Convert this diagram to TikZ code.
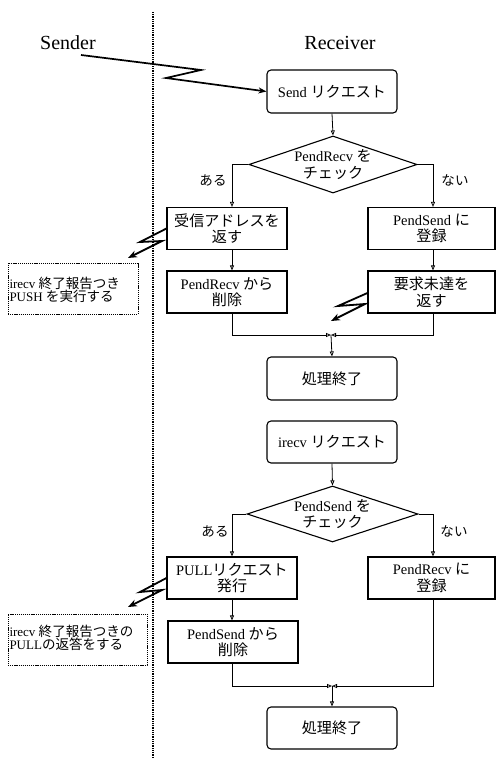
\documentclass[tikz,border=0pt]{standalone}
\usepackage{fontspec}
\setmainfont{Liberation Serif}
\newfontfamily\jp[Scale=1.04]{Noto Sans CJK JP}
\newcommand\J[1]{{\jp #1}}
\usetikzlibrary{shapes.geometric,arrows.meta,calc}
\tikzset{
  base/.style={draw, line width=1.1pt, align=center, inner sep=0pt, font=\fontsize{14.5}{16.5}\selectfont},
  procbox/.style={base, rectangle, minimum width=#1, minimum height=42pt},
  roundbox/.style={base, rectangle, rounded corners=4pt, minimum width=130pt, minimum height=43pt},
  decide/.style={base, diamond, shape aspect=3},
  notebox/.style={draw, line width=1pt, dash pattern=on 1.2pt off 0.9pt, rectangle, align=left, inner sep=0pt, font=\fontsize{13}{13.5}\selectfont},
  arr/.style={line width=0.8pt, -{Triangle[open, length=5pt, width=4pt]}},
  bolt/.style={line width=1.8pt, -{Stealth[length=9pt, width=7pt, open]}},
  lbl/.style={font=\fontsize{13}{14}\selectfont},
  head/.style={font=\fontsize{20}{24}\selectfont},
}
\begin{document}
\begin{tikzpicture}[x=1pt, y=-1pt]
\useasboundingbox (0,0) rectangle (496,759);
% headings and divider
\node[head] (sender) at (68,43) {Sender};
\node[head] (receiver) at (340,43) {Receiver};
\coordinate (ltop) at (153,12);
\coordinate (lbot) at (153,759);
\draw[line width=1.7pt, dash pattern=on 1pt off 0.8pt] (ltop) -- (lbot);
% guide coordinates
\coordinate (lx) at (232,0);
\coordinate (rx) at (433,0);
% ---- first part
\node[roundbox] (sendreq) at (332,91.5) {Send \J{リクエスト}};
\node[decide, minimum width=168pt, minimum height=57pt] (d1) at (333,164.5) {PendRecv \J{を}\\\J{チェック}};
\node[procbox=120pt] (b1) at (227,228.5) {\J{受信アドレスを}\\\J{返す}};
\node[procbox=127pt] (b2) at (431.5,228.5) {PendSend \J{に}\\\J{登録}};
\node[procbox=120pt] (b3) at (227,292) {PendRecv \J{から}\\\J{削除}};
\node[procbox=127pt] (b4) at (431.5,292) {\J{要求未達を}\\\J{返す}};
\coordinate (j1) at (331,335);
\node[roundbox] (end1) at (332,378.5) {\J{処理終了}};
\node[lbl] (yes1) at (213,180) {\J{ある}};
\node[lbl] (no1) at (455,180) {\J{ない}};

\draw[arr] (sendreq.south) -- (d1.north);
\draw[arr] (d1.west) -| (lx |- b1.north);
\draw[arr] (d1.east) -| (rx |- b2.north);
\draw[arr] (lx |- b1.south) -- (lx |- b3.north);
\draw[arr] (rx |- b2.south) -- (rx |- b4.north);
\draw[arr] (lx |- b3.south) |- (j1);
\draw[arr] (rx |- b4.south) |- (j1);
\draw[arr] (j1) -- (end1.north);

\node[notebox, minimum width=130pt, minimum height=51pt] (n1) at (73,288.5) {};
\node[notebox, anchor=west, draw=none] (n1t) at (9,290) {irecv \J{終了報告つき}\\PUSH \J{を実行する}};

% bolts
\coordinate (s0) at (81,55);
\coordinate (s1) at (201,70);
\coordinate (s2) at (166,78);
\draw[line width=1.7pt, -{Stealth[length=8pt, width=6pt, open]}] (s0) -- (s1) -- (s2) -- (sendreq.west);
\coordinate (a1) at (140,242);
\coordinate (a2) at (162,241);
\coordinate (a3) at (128,258);
\draw[bolt] (b1.west) -- (a1) -- (a2) -- (a3);
\coordinate (c0) at ($(b4.west)+(0,1)$);
\coordinate (c1) at (338,306);
\coordinate (c2) at (365,304);
\coordinate (c3) at (331,321);
\draw[bolt] (c0) -- (c1) -- (c2) -- (c3);

% ---- second part
\node[roundbox, minimum height=42pt] (irecv) at (332,442) {irecv \J{リクエスト}};
\node[decide, minimum width=171pt, minimum height=56pt] (d2) at (332.5,514) {PendSend \J{を}\\\J{チェック}};
\node[procbox=130pt] (b5) at (232,578) {PULL\J{リクエスト}\\\J{発行}};
\node[procbox=127pt] (b6) at (431.5,578) {PendRecv \J{に}\\\J{登録}};
\node[procbox=130pt] (b7) at (233,642) {PendSend \J{から}\\\J{削除}};
\coordinate (j2) at (332,686);
\node[roundbox, minimum height=42pt] (end2) at (332,728) {\J{処理終了}};
\node[lbl] (yes2) at (215,531) {\J{ある}};
\node[lbl] (no2) at (454,531) {\J{ない}};

\draw[arr] (irecv.south) -- (d2.north);
\draw[arr] (d2.west) -| (lx |- b5.north);
\draw[arr] (d2.east) -| (rx |- b6.north);
\draw[arr] (lx |- b5.south) -- (lx |- b7.north);
\draw[arr] (lx |- b7.south) |- (j2);
\draw[arr] (rx |- b6.south) |- (j2);
\draw[arr] (j2) -- (end2.north);

\node[notebox, minimum width=139pt, minimum height=51pt] (n2) at (77.5,639.5) {};
\node[notebox, anchor=west, draw=none] (n2t) at (9,638) {irecv \J{終了報告つきの}\\PULL\J{の返答をする}};
\coordinate (e1) at (140,592);
\coordinate (e2) at (162,590);
\coordinate (e3) at (128,607);
\draw[bolt] (b5.west) -- (e1) -- (e2) -- (e3);
\end{tikzpicture}
\end{document}
